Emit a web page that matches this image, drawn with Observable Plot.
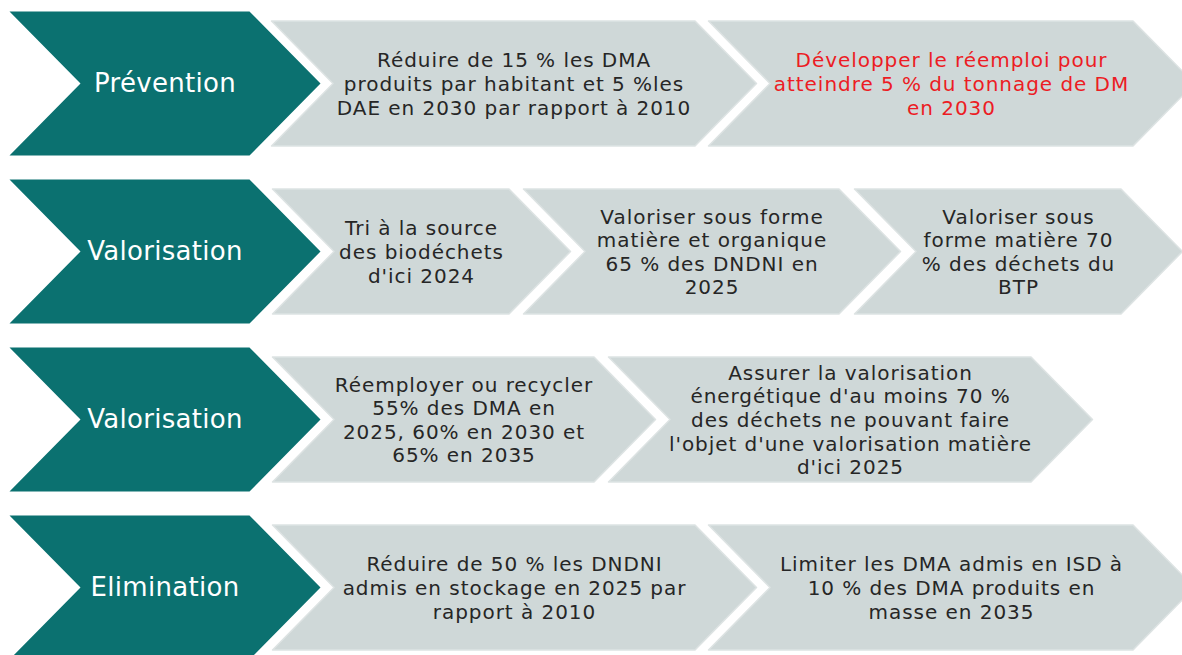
<!DOCTYPE html>
<html>
<head>
<meta charset="utf-8">
<script src="https://cdn.jsdelivr.net/npm/d3@7"></script>
<script src="https://cdn.jsdelivr.net/npm/@observablehq/plot@0.6"></script>
<style>
  html, body { margin: 0; padding: 0; background: #ffffff; }
  #chart svg { display: block; }
  .item-labels text { letter-spacing: 0.95px; }
  .phase-labels text { letter-spacing: 0.3px; }
</style>
</head>
<body>
<div id="chart"></div>
<script>
// ---- Data ----
const phases = ["Prévention", "Valorisation", "Valorisation", "Elimination"];

const objectivesPrevention = [
  "Réduire de 15 % les DMA\nproduits par habitant et 5 %les\nDAE en 2030 par rapport à 2010",
  "Développer le réemploi pour\natteindre 5 % du tonnage de DM\nen 2030"
];
const objectivesValorisation1 = [
  "Tri à la source\ndes biodéchets\nd'ici 2024",
  "Valoriser sous forme\nmatière et organique\n65 % des DNDNI en\n2025",
  "Valoriser sous\nforme matière 70\n% des déchets du\nBTP"
];
const objectivesValorisation2 = [
  "Réemployer ou recycler\n55% des DMA en\n2025, 60% en 2030 et\n65% en 2035",
  "Assurer la valorisation\nénergétique d'au moins 70 %\ndes déchets ne pouvant faire\nl'objet d'une valorisation matière\nd'ici 2025"
];
const objectivesElimination = [
  "Réduire de 50 % les DNDNI\nadmis en stockage en 2025 par\nrapport à 2010",
  "Limiter les DMA admis en ISD à\n10 % des DMA produits en\nmasse en 2035"
];
const objectives = [objectivesPrevention, objectivesValorisation1, objectivesValorisation2, objectivesElimination];
// objective flagged (row, column) shown in red
const flagged = [[0, 1]];

// ---- Layout (pixels) ----
const W = 1182, H = 655;
const rowCenter0 = 83, rowStep = 168;
const phaseLeft = 9, phaseTip = 320, phaseHalf = 72;
const itemHalf = 62.5;
const itemSpans = [
  [[271, 756], [708, 1194]],
  [[272, 570], [523, 900], [854, 1182]],
  [[272, 655], [608, 1092]],
  [[272, 756], [708, 1194]]
];

function chevron(id, L, T, cy, h) {
  const d = h - 1;
  return [
    [L, cy - h], [T - d, cy - h], [T, cy], [T - d, cy + h], [L, cy + h], [L + d, cy]
  ].map(([x, y]) => ({id, x, y}));
}

const phaseShapes = [], phaseLabels = [], itemShapes = [], itemLabels = [];
phases.forEach((p, i) => {
  const cy = rowCenter0 + i * rowStep;
  phaseShapes.push(...chevron("p" + i, phaseLeft, phaseTip, cy, phaseHalf));
  phaseLabels.push({x: (phaseLeft + phaseTip) / 2, y: cy, text: p});
  objectives[i].forEach((t, j) => {
    const [L, T] = itemSpans[i][j];
    itemShapes.push(...chevron("o" + i + "_" + j, L, T, cy, itemHalf));
    const red = flagged.some(([r, c]) => r === i && c === j);
    itemLabels.push({x: (L + T) / 2, y: cy, text: t, red});
  });
});

const chart = Plot.plot({
  width: W,
  height: H,
  margin: 0,
  x: {domain: [0, W], range: [0, W], axis: null},
  y: {domain: [0, H], range: [0, H], axis: null},
  style: {background: "#ffffff"},
  marks: [
    Plot.line(itemShapes, {x: "x", y: "y", z: "id", curve: "linear-closed",
      fill: "#cfd8d8", stroke: "#dde3e3", strokeWidth: 1.5}),
    Plot.line(phaseShapes, {x: "x", y: "y", z: "id", curve: "linear-closed",
      fill: "#0b7170", stroke: "none"}),
    Plot.text(phaseLabels, {x: "x", y: "y", text: "text", fill: "#ffffff",
      fontSize: 26, fontFamily: "DejaVu Sans", className: "phase-labels"}),
    Plot.text(itemLabels, {x: "x", y: "y", text: "text",
      fill: d => d.red ? "#ec1c24" : "#262626",
      fontSize: 20, lineHeight: 1.18, fontFamily: "DejaVu Sans", className: "item-labels"})
  ]
});
document.getElementById("chart").appendChild(chart);
</script>
</body>
</html>
